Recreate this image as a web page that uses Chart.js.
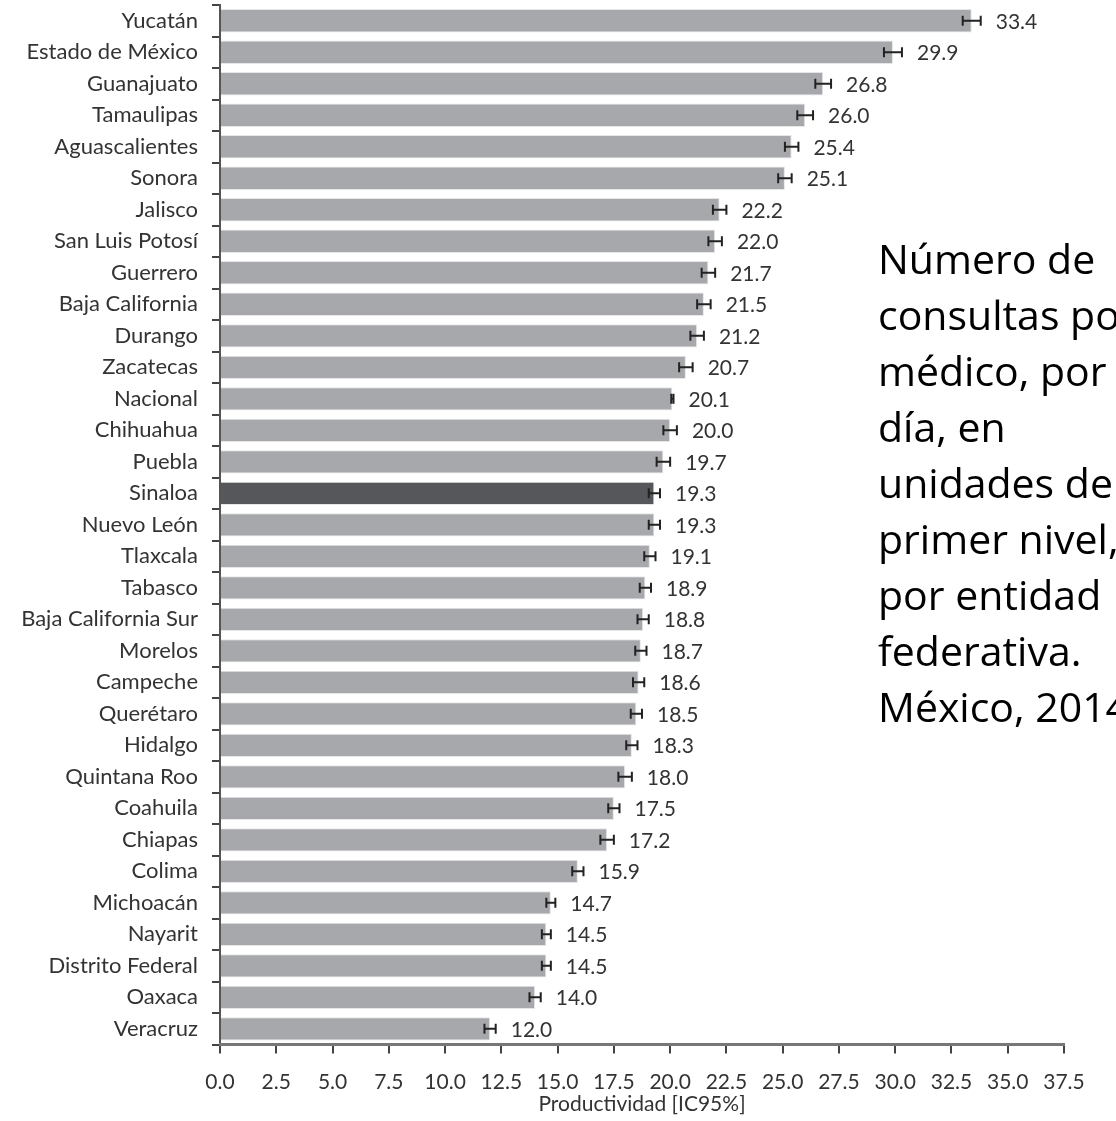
<!DOCTYPE html>
<html>
<head>
<meta charset="utf-8">
<script src="https://cdn.jsdelivr.net/npm/chart.js@4.4.1/dist/chart.umd.min.js"></script>
<style>
  html, body { margin: 0; padding: 0; background: #fff; overflow: hidden; }
  #wrap { position: relative; width: 1116px; height: 1121px; }
  #nota {
    position: absolute; left: 878px; top: 230px; width: 300px;
    font-family: "Open Sans", sans-serif; font-size: 41px; line-height: 56px;
    color: #000; white-space: nowrap;
  }
</style>
</head>
<body>
<div id="wrap">
  <canvas id="grafico" width="1116" height="1121"></canvas>
  <div id="nota">Número de<br>consultas por<br>médico, por<br>día, en<br>unidades de<br>primer nivel,<br>por entidad<br>federativa.<br>México, 2014</div>
</div>
<script>
const estados = ['Yucatán', 'Estado de México', 'Guanajuato', 'Tamaulipas', 'Aguascalientes', 'Sonora',
  'Jalisco', 'San Luis Potosí', 'Guerrero', 'Baja California', 'Durango', 'Zacatecas', 'Nacional',
  'Chihuahua', 'Puebla', 'Sinaloa', 'Nuevo León', 'Tlaxcala', 'Tabasco', 'Baja California Sur',
  'Morelos', 'Campeche', 'Querétaro', 'Hidalgo', 'Quintana Roo', 'Coahuila', 'Chiapas', 'Colima',
  'Michoacán', 'Nayarit', 'Distrito Federal', 'Oaxaca', 'Veracruz'];
const productividad = [33.4, 29.9, 26.8, 26.0, 25.4, 25.1, 22.2, 22.0, 21.7, 21.5, 21.2, 20.7, 20.1,
  20.0, 19.7, 19.3, 19.3, 19.1, 18.9, 18.8, 18.7, 18.6, 18.5, 18.3, 18.0, 17.5, 17.2, 15.9,
  14.7, 14.5, 14.5, 14.0, 12.0];
// medio ancho del IC95%
const errorIC = [0.4, 0.4, 0.35, 0.35, 0.3, 0.3, 0.3, 0.3, 0.3, 0.3, 0.3, 0.3, 0.05,
  0.3, 0.3, 0.25, 0.25, 0.25, 0.25, 0.25, 0.25, 0.25, 0.25, 0.25, 0.3, 0.25, 0.3, 0.25,
  0.2, 0.2, 0.2, 0.25, 0.25];
const ticksX = [0, 2.5, 5, 7.5, 10, 12.5, 15, 17.5, 20, 22.5, 25, 27.5, 30, 32.5, 35, 37.5];
const destacado = 'Sinaloa';

const colores = estados.map(e => e === destacado ? '#55575a' : '#a7a8ab');
const fuente = 'Lato, sans-serif';

const barrasError = {
  id: 'barrasError',
  afterDatasetsDraw(chart) {
    const ctx = chart.ctx;
    const x = chart.scales.x;
    const meta = chart.getDatasetMeta(0);
    ctx.save();
    meta.data.forEach((bar, i) => {
      const v = productividad[i];
      const e = errorIC[i];
      const x1 = x.getPixelForValue(v - e);
      const x2 = x.getPixelForValue(v + e);
      const y = bar.y;
      ctx.strokeStyle = '#222';
      ctx.lineWidth = 2;
      ctx.beginPath();
      ctx.moveTo(x1, y); ctx.lineTo(x2, y);
      ctx.moveTo(x1, y - 5); ctx.lineTo(x1, y + 5);
      ctx.moveTo(x2, y - 5); ctx.lineTo(x2, y + 5);
      ctx.stroke();
      ctx.fillStyle = '#333';
      ctx.font = '21px ' + fuente;
      ctx.textBaseline = 'middle';
      ctx.textAlign = 'left';
      ctx.fillText(v.toFixed(1), x2 + 15, y + 1);
    });
    ctx.restore();
  }
};

new Chart(document.getElementById('grafico'), {
  type: 'bar',
  data: {
    labels: estados,
    datasets: [{
      label: 'Productividad',
      data: productividad,
      backgroundColor: colores,
      borderColor: '#e6e6e7',
      borderWidth: 1,
      categoryPercentage: 1,
      barPercentage: 0.74
    }]
  },
  options: {
    indexAxis: 'y',
    responsive: false,
    animation: false,
    layout: { padding: { top: 5, right: 52, bottom: 4, left: 0 } },
    plugins: { legend: { display: false }, tooltip: { enabled: false } },
    scales: {
      y: {
        afterFit(s) { s.width = 220; s.paddingTop = 0; s.paddingBottom = 0; },
        border: { display: true, color: '#555', width: 2 },
        grid: { offset: true, drawOnChartArea: false, tickLength: 8, color: '#444', lineWidth: 2 },
        ticks: { color: '#333', padding: 14, font: { family: fuente, size: 22 } }
      },
      x: {
        min: 0,
        max: 37.5,
        afterBuildTicks(s) { s.ticks = ticksX.map(v => ({ value: v })); },
        border: { display: true, color: '#777', width: 3 },
        grid: { drawOnChartArea: false, tickLength: 9, color: '#444', lineWidth: 2 },
        ticks: {
          color: '#333', padding: 16, maxRotation: 0, autoSkip: false,
          font: { family: fuente, size: 21 },
          callback: v => v.toFixed(1)
        },
        title: {
          display: true, text: 'Productividad [IC95%]', color: '#333',
          padding: { top: -19, bottom: 0 }, font: { family: fuente, size: 21 }
        }
      }
    }
  },
  plugins: [barrasError]
});
</script>
</body>
</html>
